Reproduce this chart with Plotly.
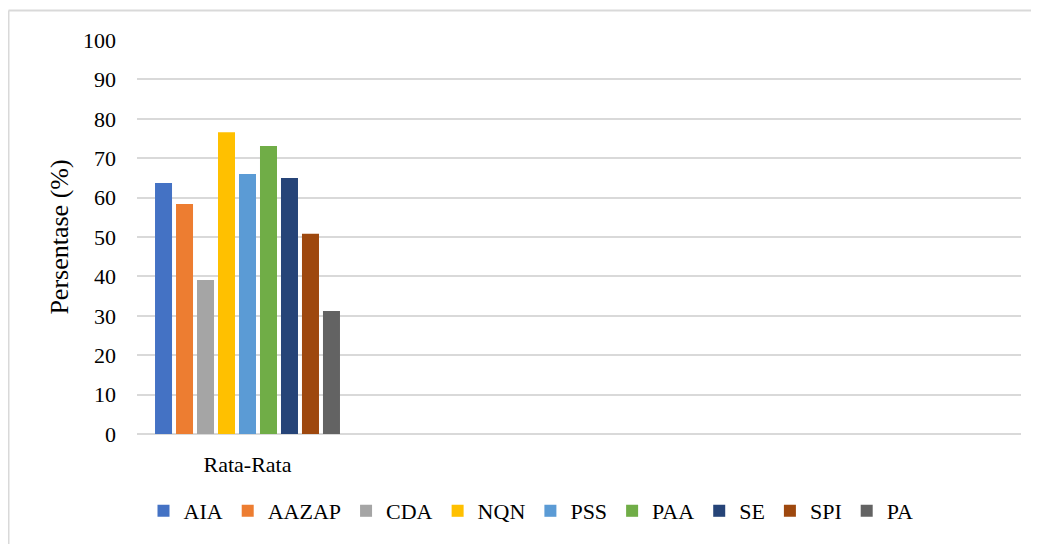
import plotly.graph_objects as go

categories = ["Rata-Rata", "c2", "c3", "c4"]
series_names = ["AIA", "AAZAP", "CDA", "NQN", "PSS", "PAA", "SE", "SPI", "PA"]
series_values = [63.7, 58.4, 39.1, 76.6, 66.0, 73.1, 65.0, 50.8, 31.2]
series_colors = ["#4472C4", "#ED7D31", "#A5A5A5", "#FFC000", "#5B9BD5",
                 "#70AD47", "#264478", "#9E480E", "#636363"]
y_ticks = [0, 10, 20, 30, 40, 50, 60, 70, 80, 90, 100]

# page body has an 8px default margin; compensate so page pixels match
OFF = 8
PAGE_W, PAGE_H = 1039, 544
W, H = PAGE_W - OFF, PAGE_H - OFF
# plot area in page pixels: x 137..1021, y 40..434
L, R, T, B = 137 - OFF, PAGE_W - 1021, 40 - OFF, (OFF + H) - 434
pw, ph = W - L - R, H - T - B

def px_x(x):
    return (x - 137) / pw

def px_y(y):
    return (434 - y) / ph

FONT = "Liberation Serif"

fig = go.Figure()
for name, val, col in zip(series_names, series_values, series_colors):
    fig.add_trace(go.Bar(x=[categories[0]], y=[val], name=name,
                         marker=dict(color=col, line=dict(width=0))))

border = "#D9D9D9"
fig.add_shape(type="line", xref="paper", yref="paper",
              x0=px_x(8.5), x1=px_x(1039), y0=px_y(10.5), y1=px_y(10.5),
              line=dict(color=border, width=2))
fig.add_shape(type="line", xref="paper", yref="paper",
              x0=px_x(8.5), x1=px_x(8.5), y0=px_y(10.5), y1=px_y(OFF + H),
              line=dict(color=border, width=2))

fig.update_layout(
    width=W, height=H,
    margin=dict(l=L, r=R, t=T, b=B),
    paper_bgcolor="white", plot_bgcolor="white",
    barmode="group", bargap=0.145, bargroupgap=0.19,
    font=dict(family=FONT, color="#000000", size=22),
    showlegend=True,
    legend=dict(orientation="h", x=px_x(531), xanchor="center",
                y=px_y(511), yanchor="middle",
                font=dict(family=FONT, size=22, color="#000000"),
                itemwidth=30, traceorder="normal"),
    xaxis=dict(type="category", categoryorder="array", categoryarray=categories,
               range=[-0.5, 3.5], tickvals=[categories[0]], ticktext=[categories[0]],
               showgrid=False, showline=False, ticks="", ticklabelstandoff=15,
               tickfont=dict(family=FONT, size=22, color="#000000")),
    yaxis=dict(range=[0, 100], tickvals=y_ticks, showgrid=True,
               gridcolor="#D9D9D9", gridwidth=1.5,
               zeroline=True, zerolinecolor="#D9D9D9", zerolinewidth=1.5,
               showline=False, ticks="", ticklabelstandoff=20,
               tickfont=dict(family=FONT, size=22, color="#000000"),
               title=dict(text="Persentase (%)", standoff=6,
                          font=dict(family=FONT, size=26, color="#000000"))),
)

fig.write_html("out.html")
